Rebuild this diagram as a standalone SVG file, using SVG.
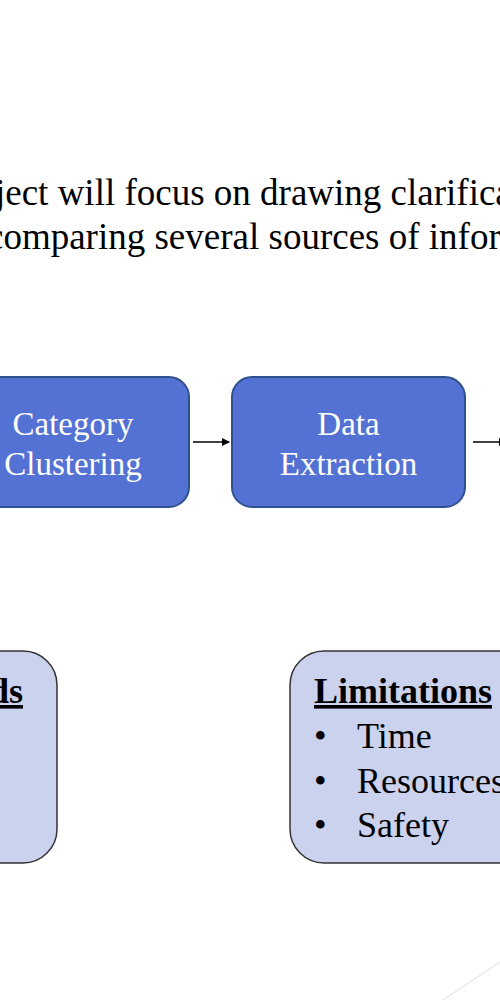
<svg xmlns="http://www.w3.org/2000/svg" width="500" height="1000" viewBox="0 0 500 1000">
<style>
.t{font-family:"Liberation Serif","Times New Roman",serif;fill:#000}
.bt{font-family:"Liberation Serif","Times New Roman",serif;fill:#fff;font-size:33px;text-anchor:middle}
.proc{fill:#5472D3;stroke:#2F528F;stroke-width:2}
.note{fill:#CBD2EE;stroke:#333;stroke-width:1.5}
.h{font-weight:bold;font-size:36px;text-decoration:underline}
.li{font-size:36px}
.conn{stroke:#000;stroke-width:1.5;fill:none}
</style>
<defs>
<marker id="ah" markerWidth="8" markerHeight="8" refX="7" refY="4" orient="auto" markerUnits="userSpaceOnUse">
<path d="M0,0 L8,4 L0,8 z" fill="#000"/>
</marker>
</defs>
<rect width="500" height="1000" fill="#fff"/>
<g id="intro">
<text class="t" x="-5" y="205" font-size="37">ject will focus on drawing clarifica</text>
<text class="t" x="-13" y="249" font-size="37">comparing several sources of infor</text>
</g>
<g id="category-clustering">
<rect class="proc" x="-43" y="377" width="232" height="130" rx="20"/>
<text class="bt" x="73" y="435">Category</text>
<text class="bt" x="73" y="475">Clustering</text>
</g>
<g id="data-extraction">
<rect class="proc" x="232" y="377" width="233" height="130" rx="20"/>
<text class="bt" x="348.5" y="435">Data</text>
<text class="bt" x="348.5" y="475">Extraction</text>
</g>
<g id="connectors">
<line class="conn" x1="193" y1="442" x2="229" y2="442" marker-end="url(#ah)"/>
<line class="conn" x1="473" y1="442" x2="506" y2="442" marker-end="url(#ah)"/>
</g>
<g id="methods">
<rect class="note" x="-200" y="651" width="257" height="212" rx="34"/>
<text class="t h" x="23" y="703" text-anchor="end">ds</text>
</g>
<g id="limitations">
<rect class="note" x="290" y="651" width="260" height="212" rx="34"/>
<text class="t h" x="314" y="703">Limitations</text>
<text class="t li" x="314" y="748">•</text><text class="t li" x="357" y="748">Time</text>
<text class="t li" x="314" y="793">•</text><text class="t li" x="357" y="793">Resources</text>
<text class="t li" x="314" y="837">•</text><text class="t li" x="357" y="837">Safety</text>
</g>
<line x1="443" y1="1000" x2="500" y2="962" stroke="#ddd" stroke-width="1"/>
</svg>
